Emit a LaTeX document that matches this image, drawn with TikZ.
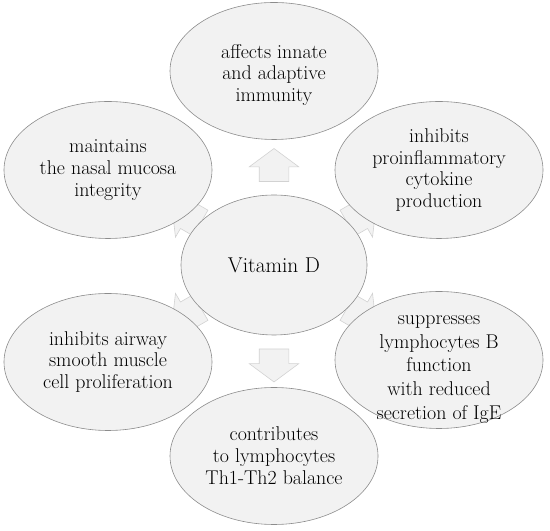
\documentclass[tikz,border=0pt]{standalone}
\usepackage{fontspec}
\usepackage{tikz}
\usetikzlibrary{shapes.geometric, shapes.arrows}

\begin{document}
\begin{tikzpicture}[x=1bp, y=1bp,
  bubble/.style={ellipse, draw=gray!90, fill=gray!10, line width=0.6pt, minimum width=208bp, minimum height=137bp, inner sep=-4bp, align=center, font=\fontsize{20}{22}\selectfont},
  blockarrow/.style={single arrow, draw=gray!35, fill=gray!10, line width=0.6pt, minimum height=33bp, inner xsep=0pt, inner ysep=14.5bp, single arrow head extend=10bp, single arrow tip angle=107}]
  \useasboundingbox (0,0) rectangle (550,531);
  % block arrows go first, the ellipses hide their ends
  \node[blockarrow, rotate=90] (toimmunity) at (274,360.5) {};
  \node[blockarrow, rotate=-90] (tobalance) at (274,171) {};
  \node[blockarrow, rotate=150] (tomucosa) at (191,313.5) {};
  \node[blockarrow, rotate=30] (tocytokine) at (357,313.5) {};
  \node[blockarrow, rotate=210] (toairway) at (191,218) {};
  \node[blockarrow, rotate=-30] (toige) at (357,218) {};
  % centre
  \node[bubble, minimum width=186bp, minimum height=140bp, font=\fontsize{21.5}{22}\selectfont] (vitd) at (274,266) {Vitamin D};
  % outer ring (struts push the text a little lower)
  \node[bubble] (immunity) at (274,460) {\rule{0pt}{22bp}affects innate\\and adaptive\\immunity};
  \node[bubble] (mucosa) at (108,361) {maintains\\the nasal mucosa\\integrity};
  \node[bubble] (cytokine) at (439,361) {inhibits\\proinflammatory\\cytokine\\production};
  \node[bubble] (airway) at (108,169) {inhibits airway\\smooth muscle\\cell proliferation};
  \node[bubble, inner ysep=-22bp, font=\fontsize{20}{24}\selectfont] (ige) at (439,171) {\rule{0pt}{28bp}suppresses\\lymphocytes B\\function\\with reduced\\secretion of IgE};
  \node[bubble] (balance) at (274,75) {contributes\\to lymphocytes\\Th1-Th2 balance};
\end{tikzpicture}
\end{document}
